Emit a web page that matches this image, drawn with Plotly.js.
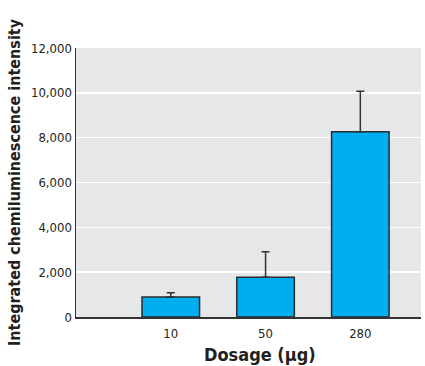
<!DOCTYPE html>
<html><head><meta charset="utf-8">
<script src="https://cdn.plot.ly/plotly-3.0.1.min.js"></script>
<style>html,body{margin:0;padding:0;background:#fff}#chart{width:425px;height:366px}</style>
</head><body><div id="chart"></div>
<script>
const categories = ["10", "50", "280"];
const positions = [1, 2, 3];
const values = [895, 1776, 8263];
const errorsUp = [190, 1130, 1805];
const yTicks = [0, 2000, 4000, 6000, 8000, 10000, 12000];
const yTickText = ["0", "2,000", "4,000", "6,000", "8,000", "10,000", "12,000"];

const font = "'DejaVu Sans Condensed', 'Liberation Sans Narrow', Arial, sans-serif";
Plotly.newPlot("chart", [{
  type: "bar",
  x: positions,
  y: values,
  width: 0.607,
  marker: {color: "#00aeef", line: {color: "#2b2b2b", width: 1.5}},
  error_y: {type: "data", symmetric: false, array: errorsUp, arrayminus: values.map(() => 0),
            color: "#333333", thickness: 1.5, width: 4}
}], {
  width: 425, height: 366,
  margin: {l: 76, r: 4, t: 48, b: 49},
  paper_bgcolor: "#ffffff",
  plot_bgcolor: "#e6e7e8",
  showlegend: false,
  font: {family: font, color: "#231f20"},
  xaxis: {
    range: [0, 3.64], tickvals: positions, ticktext: categories,
    showgrid: false, zeroline: false, showline: true, linecolor: "#333", linewidth: 1.5,
    ticks: "outside", ticklen: 4, tickcolor: "rgba(0,0,0,0)", tickfont: {size: 13, family: font}
  },
  yaxis: {
    range: [0, 12000], tickvals: yTicks, ticktext: yTickText,
    showgrid: true, gridcolor: "#ffffff", gridwidth: 1.5, zeroline: false,
    showline: true, linecolor: "#333", linewidth: 1.5, ticks: "",
    tickfont: {size: 13, family: font},
    title: {text: "<b>Integrated chemiluminescence intensity</b>", font: {size: 16, family: font}, standoff: 6}
  },
  annotations: [{
    text: "<b>Dosage (μg)</b>", xref: "paper", yref: "paper",
    x: (260 - 76) / 345, y: 0, yshift: -25, xanchor: "center", yanchor: "top",
    showarrow: false, font: {size: 18, family: font, color: "#231f20"}
  }]
}, {displayModeBar: false, staticPlot: true});
</script></body></html>
